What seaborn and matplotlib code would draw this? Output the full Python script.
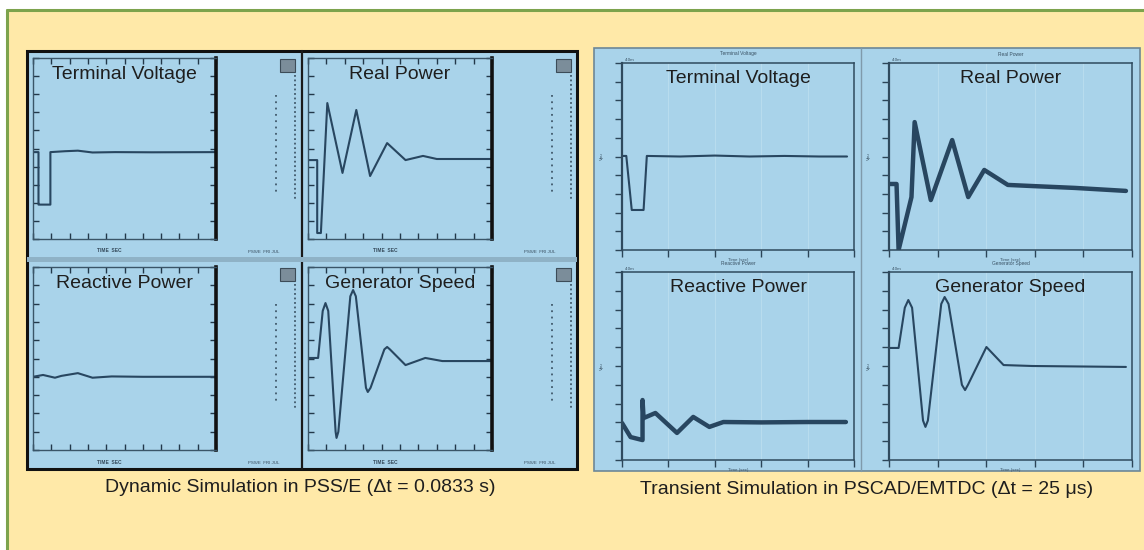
import numpy as np
import pandas as pd
import matplotlib
matplotlib.use("Agg")
import matplotlib.pyplot as plt
import seaborn as sns
from matplotlib.patches import Rectangle
from matplotlib.lines import Line2D

# ---- traces (time in s, value in arbitrary units 0..10) ----
# PSS/E dynamic simulation
pss_tv_t = [0, 0.6, 0.6, 1.9, 1.9, 3.5, 4.9, 6.5, 9, 13, 20]
pss_tv_v = [4.8, 4.8, 1.9, 1.9, 4.8, 4.85, 4.88, 4.78, 4.8, 4.79, 4.8]

pss_p_t = [0, 1.0, 1.0, 1.4, 2.1, 3.75, 5.25, 6.75, 8.6, 10.6, 12.5, 14, 20]
pss_p_v = [4.36, 4.36, 0.33, 0.33, 7.51, 3.65, 7.13, 3.48, 5.3, 4.36, 4.59, 4.42, 4.42]

pss_q_t = [0, 1.1, 2.4, 3.1, 4.9, 6.5, 8.6, 12, 20]
pss_q_v = [4.0, 4.1, 3.95, 4.05, 4.2, 3.95, 4.02, 4.0, 4.0]

pss_w_t = [0, 1.1, 1.6, 1.9, 2.2, 3.0, 3.1, 3.3, 4.6, 4.9, 5.2, 6.3, 6.5, 6.8, 8.3, 8.6, 8.9,
           10.6, 12.75, 14.6, 20]
pss_w_v = [5.03, 5.03, 7.6, 8.03, 7.6, 1.0, 0.66, 1.0, 8.4, 8.74, 8.4, 3.4, 3.17, 3.4, 5.5, 5.63, 5.5,
           4.64, 5.03, 4.86, 4.86]

# PSCAD/EMTDC transient simulation
emt_tv_t = [0, 0.37, 0.84, 1.86, 2.14, 5, 8, 11, 14, 17, 19.4]
emt_tv_v = [5.03, 5.03, 2.14, 2.14, 5.03, 5.0, 5.05, 5.0, 5.03, 5.0, 5.0]

emt_p_t = [0.09, 0.62, 0.79, 1.85, 2.11, 3.44, 5.2, 6.52, 7.84, 9.78, 11.8, 15.3, 19.5]
emt_p_v = [3.53, 3.53, 0.0, 2.83, 6.84, 2.67, 5.88, 2.83, 4.28, 3.48, 3.42, 3.32, 3.16]

emt_q_t = [0, 0.74, 1.77, 1.77, 1.86, 2.88, 4.74, 6.14, 7.53, 8.74, 12, 16, 19.3]
emt_q_v = [1.97, 1.22, 1.06, 3.19, 2.23, 2.5, 1.44, 2.29, 1.76, 2.02, 2.0, 2.02, 2.02]

emt_w_t = [0, 0.79, 1.3, 1.59, 1.9, 2.8, 3.0, 3.2, 4.3, 4.58, 4.9, 6.0, 6.26, 6.5, 8.02, 9.43,
           11.8, 19.5]
emt_w_v = [5.96, 5.96, 8.1, 8.51, 8.1, 2.1, 1.76, 2.1, 8.3, 8.67, 8.3, 4.0, 3.72, 4.0, 6.01, 5.05,
           5.0, 4.95]

titles = ["Terminal Voltage", "Real Power", "Reactive Power", "Generator Speed"]
caption_pss = "Dynamic Simulation in PSS/E (\u0394t = 0.0833 s)"
caption_emt = "Transient Simulation in PSCAD/EMTDC (\u0394t = 25 \u03bcs)"

W, H = 1144, 550
BEIGE = "#ffe9a8"
GREEN = "#7da34c"
BLUE = "#a9d3ea"
INK = "#284660"

sns.set_theme(style="white")
plt.rcParams["font.family"] = ["Liberation Sans", "DejaVu Sans"]

fig = plt.figure(figsize=(W / 100, H / 100), dpi=100, facecolor="white")


def fbox(x0, y0, x1, y1):
    return [x0 / W, 1 - y1 / H, (x1 - x0) / W, (y1 - y0) / H]


def rect(x0, y0, x1, y1, **kw):
    fig.add_artist(Rectangle((x0 / W, 1 - y1 / H), (x1 - x0) / W, (y1 - y0) / H,
                             transform=fig.transFigure, **kw))


def line(xs, ys, **kw):
    fig.add_artist(Line2D([x / W for x in xs], [1 - y / H for y in ys],
                          transform=fig.transFigure, **kw))


def label(x, y, s, **kw):
    fig.text(x / W, 1 - y / H, s, **kw)


# background page
rect(7, 10, W + 5, H + 5, facecolor=BEIGE, edgecolor="none", zorder=-10)
line([7, W], [10, 10], color=GREEN, lw=2.2, zorder=-9)
line([7, 7], [10, H], color=GREEN, lw=2.2, zorder=-9)

# panel backgrounds
rect(27, 51, 577, 469, facecolor=BLUE, edgecolor="#111111", lw=2.2, zorder=-8)
line([302, 302], [51, 469], color="#1a1a1a", lw=1.6, zorder=-7)
rect(27, 257, 577, 262, facecolor="#8fb2c6", edgecolor="none", zorder=-7)
rect(594, 48, 1140, 471, facecolor=BLUE, edgecolor="#6d8797", lw=1.2, zorder=-8)
line([861, 861], [48, 471], color="#7f9aab", lw=1.0, zorder=-7)

# ---- PSS/E style cells ----
pss_series = [(pss_tv_t, pss_tv_v), (pss_p_t, pss_p_v), (pss_q_t, pss_q_v), (pss_w_t, pss_w_v)]
pss_cols = [(33, 216), (308, 492)]
pss_rows = [(58, 239), (267, 450)]
for i, (t, v) in enumerate(pss_series):
    r, c = divmod(i, 2)
    x0, x1 = pss_cols[c]
    y0, y1 = pss_rows[r]
    ax = fig.add_axes(fbox(x0, y0, x1, y1))
    ax.set_facecolor(BLUE)
    df = pd.DataFrame({"t": t, "v": v})
    sns.lineplot(data=df, x="t", y="v", ax=ax, sort=False, estimator=None,
                 color=INK, lw=1.5)
    ax.set_xlim(0, 20)
    ax.set_ylim(0, 10)
    ax.set_xticks(np.arange(0, 21, 2))
    ax.set_yticks(np.arange(0, 11, 1))
    ax.tick_params(direction="in", length=4, width=1, color="#22384a",
                   top=True, right=True, left=True, bottom=True,
                   labelleft=False, labelbottom=False)
    ax.set_xlabel("")
    ax.set_ylabel("")
    for s in ["left", "top", "bottom"]:
        ax.spines[s].set_color("#3a5568")
        ax.spines[s].set_linewidth(1.0)
    ax.spines["right"].set_color("#111111")
    ax.spines["right"].set_linewidth(2.6)
    ax.text(0.5, 0.955, titles[i], transform=ax.transAxes, ha="center", va="top",
            fontsize=14, color="#1e1e1e")
    # side scale columns and icon
    sx = x1 + 60
    sy0, sy1 = y0 + 17, y0 + 137
    line([sx, sx], [sy0 + 20, sy1], color="#40596b", lw=1.3, ls=(0, (1, 2.5)))
    line([sx + 19, sx + 19], [sy0, sy1 + 5], color="#40596b", lw=1.3, ls=(0, (1, 1.5)))
    rect(sx + 4, y0 + 1, sx + 19, y0 + 14, facecolor="#7b8d9a", edgecolor="#3c4c58", lw=0.8)
    label((x0 + x1) / 2 - 15, y1 + 12, "TIME  SEC", fontsize=3.5, color="#34495a",
          ha="center", va="center", fontweight="bold")
    label(x1 + 48, y1 + 13, "PSS/E  FRI JUL", fontsize=3.2, color="#34495a",
          ha="center", va="center")

# ---- PSCAD style cells ----
emt_series = [(emt_tv_t, emt_tv_v), (emt_p_t, emt_p_v), (emt_q_t, emt_q_v), (emt_w_t, emt_w_v)]
emt_lw = [1.5, 3.2, 3.2, 1.5]
emt_cols = [(622, 854), (889, 1132)]
emt_rows = [(63, 250), (272, 460)]
emt_title_y = [0.915, 0.915]
for i, (t, v) in enumerate(emt_series):
    r, c = divmod(i, 2)
    x0, x1 = emt_cols[c]
    y0, y1 = emt_rows[r]
    ax = fig.add_axes(fbox(x0, y0, x1, y1))
    ax.set_facecolor(BLUE)
    ax.set_xlim(0, 20)
    ax.set_ylim(0, 10)
    ax.set_xticks(np.arange(0, 21, 4))
    ax.set_yticks(np.arange(0, 11, 1))
    ax.grid(True, axis="x", color="#b8dcee", lw=0.8)
    df = pd.DataFrame({"t": t, "v": v})
    sns.lineplot(data=df, x="t", y="v", ax=ax, sort=False, estimator=None,
                 color=INK, lw=emt_lw[i])
    ax.tick_params(direction="out", length=5, width=1, color="#2c4558",
                   left=True, bottom=True, labelleft=False, labelbottom=False)
    ax.set_xlabel("")
    ax.set_ylabel("")
    for s in ["left", "top", "bottom", "right"]:
        ax.spines[s].set_color("#2f4a5e")
        ax.spines[s].set_linewidth(1.1)
    ax.spines["left"].set_linewidth(1.6)
    ax.text(0.5, emt_title_y[r], titles[i], transform=ax.transAxes, ha="center",
            va="center", fontsize=14, color="#1e1e1e")
    label((x0 + x1) / 2, y0 - 9, titles[i], fontsize=3.5, color="#3a5264",
          ha="center", va="center")
    label(x0 + 8, y0 - 3, "4.0m", fontsize=3.2, color="#3a5264", ha="center", va="center")
    label(x0 - 20, (y0 + y1) / 2, "Vpu", fontsize=3.2, color="#3a5264",
          ha="center", va="center", rotation=90)
    label((x0 + x1) / 2, y1 + 10, "Time (sec)", fontsize=3.2, color="#3a5264",
          ha="center", va="center")

# captions
label(300, 488, caption_pss, fontsize=14, color="#1e1e1e", ha="center", va="center")
label(867, 489, caption_emt, fontsize=14, color="#1e1e1e", ha="center", va="center")

fig.savefig("out.png", dpi=100, facecolor="white")
